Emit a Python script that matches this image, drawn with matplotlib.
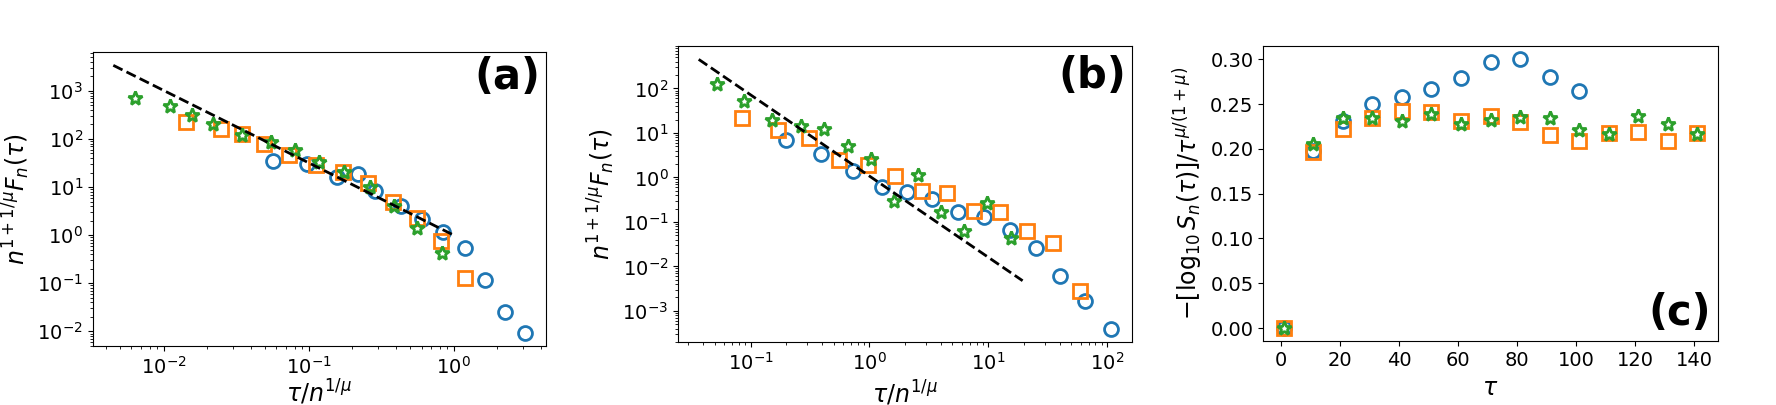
import numpy as np
import matplotlib
matplotlib.use("Agg")
import matplotlib.pyplot as plt

# ---------------- panel (a) ----------------
a_circ_x = [0.0564, 0.0977, 0.157, 0.220, 0.287, 0.432, 0.600, 0.843, 1.19, 1.64, 2.25, 3.11]
a_circ_y = [34.6, 29.5, 16.3, 18.6, 8.36, 4.08, 2.12, 1.14, 0.53, 0.116, 0.0248, 0.0094]

a_sq_x = [0.0142, 0.0248, 0.0348, 0.0495, 0.0736, 0.113, 0.172, 0.256, 0.381, 0.557, 0.820, 1.20]
a_sq_y = [227, 160, 126, 78, 46, 28.6, 20.1, 12.3, 4.79, 2.30, 0.753, 0.126]

a_star_x = [0.00635, 0.0110, 0.0157, 0.0220, 0.0348, 0.0549, 0.0802, 0.118, 0.175, 0.264, 0.385, 0.561, 0.834]
a_star_y = [727, 488, 322, 209, 120, 87, 58.5, 32.5, 20.1, 10.1, 4.08, 1.38, 0.417]

a_line_x = [0.0045, 1.0]
a_line_y = [3400, 1.0]

# ---------------- panel (b) ----------------
b_circ_x = [0.200, 0.394, 0.735, 1.28, 2.06, 3.36, 5.56, 9.31, 15.2, 25.1, 40.5, 65.9, 109]
b_circ_y = [6.84, 3.42, 1.36, 0.605, 0.467, 0.324, 0.165, 0.127, 0.066, 0.0255, 0.00615, 0.00165, 0.0004]

b_sq_x = [0.0848, 0.169, 0.310, 0.560, 0.98, 1.64, 2.75, 4.54, 7.67, 12.5, 21.2, 35.3, 59.3]
b_sq_y = [21.8, 11.9, 7.71, 2.50, 1.87, 1.05, 0.483, 0.443, 0.180, 0.165, 0.0638, 0.0342, 0.00278]

b_star_x = [0.0517, 0.0885, 0.152, 0.264, 0.414, 0.655, 1.03, 1.62, 2.58, 4.02, 6.32, 9.87, 15.5]
b_star_y = [127, 53.6, 19.3, 14.1, 12.3, 5.0, 2.59, 0.298, 1.15, 0.171, 0.0638, 0.264, 0.0429]

b_line_x = [0.0366, 19.5]
b_line_y = [451, 0.00475]

# ---------------- panel (c) ----------------
tau_circ = [1, 11, 21, 31, 41, 51, 61, 71, 81, 91, 101]
c_circ = [0.0, 0.1975, 0.2317, 0.2496, 0.2582, 0.2671, 0.2787, 0.2969, 0.2999, 0.2806, 0.2642]

tau_all = [1, 11, 21, 31, 41, 51, 61, 71, 81, 91, 101, 111, 121, 131, 141]
c_sq = [0.0, 0.1963, 0.2224, 0.2347, 0.2422, 0.2414, 0.2310, 0.2366, 0.2303, 0.2161,
        0.2086, 0.2180, 0.2187, 0.2086, 0.2180]
c_star = [0.0, 0.2060, 0.2340, 0.2347, 0.2310, 0.2392, 0.2280, 0.2321, 0.2358, 0.2347,
          0.2206, 0.2168, 0.2373, 0.2273, 0.2168]

circ = dict(marker='o', ls='none', mfc='none', mec='C0', ms=10, mew=2)
sq = dict(marker='s', ls='none', mfc='none', mec='C1', ms=10, mew=2)
star = dict(marker='*', ls='none', mfc='none', mec='C2', ms=10, mew=2)

fig = plt.figure(figsize=(17.76, 4.05), dpi=100)
ax1 = fig.add_axes([0.0522, 0.1457, 0.2551, 0.726])
ax2 = fig.add_axes([0.3818, 0.1556, 0.2556, 0.731])
ax3 = fig.add_axes([0.7113, 0.1568, 0.2559, 0.7296])

tick_fs = 14
lab_fs = 17

for ax, cx, cy, sx, sy, tx, ty, lx, ly in [
        (ax1, a_circ_x, a_circ_y, a_sq_x, a_sq_y, a_star_x, a_star_y, a_line_x, a_line_y),
        (ax2, b_circ_x, b_circ_y, b_sq_x, b_sq_y, b_star_x, b_star_y, b_line_x, b_line_y)]:
    ax.plot(cx, cy, **circ)
    ax.plot(sx, sy, **sq)
    ax.plot(tx, ty, **star)
    ax.plot(lx, ly, 'k--', lw=2)
    ax.set_xscale('log')
    ax.set_yscale('log')
    ax.set_ylabel(r'$n^{1+1/\mu}F_n(\tau)$', fontsize=lab_fs)
    ax.tick_params(labelsize=tick_fs)

# panel (a) sits lower, its x label hugs the bottom edge
ax1.set_xlabel(r'$\tau/n^{1/\mu}$', fontsize=lab_fs, labelpad=0.5)
ax2.set_xlabel(r'$\tau/n^{1/\mu}$', fontsize=lab_fs)

ax3.plot(tau_circ, c_circ, **circ)
ax3.plot(tau_all, c_sq, **sq)
ax3.plot(tau_all, c_star, **star)
ax3.set_xlabel(r'$\tau$', fontsize=lab_fs)
ax3.set_ylabel(r'$-[\log_{10}S_n(\tau)]/\tau^{\mu/(1+\mu)}$', fontsize=lab_fs)
ax3.set_xticks([0, 20, 40, 60, 80, 100, 120, 140])
ax3.tick_params(labelsize=tick_fs)

ax1.text(0.987, 0.874, '(a)', transform=ax1.transAxes, ha='right', va='baseline',
         fontsize=30, fontweight='bold')
ax2.text(0.987, 0.859, '(b)', transform=ax2.transAxes, ha='right', va='baseline',
         fontsize=30, fontweight='bold')
ax3.text(0.985, 0.0575, '(c)', transform=ax3.transAxes, ha='right', va='baseline',
         fontsize=30, fontweight='bold')

fig.savefig('out.png', dpi=100)
